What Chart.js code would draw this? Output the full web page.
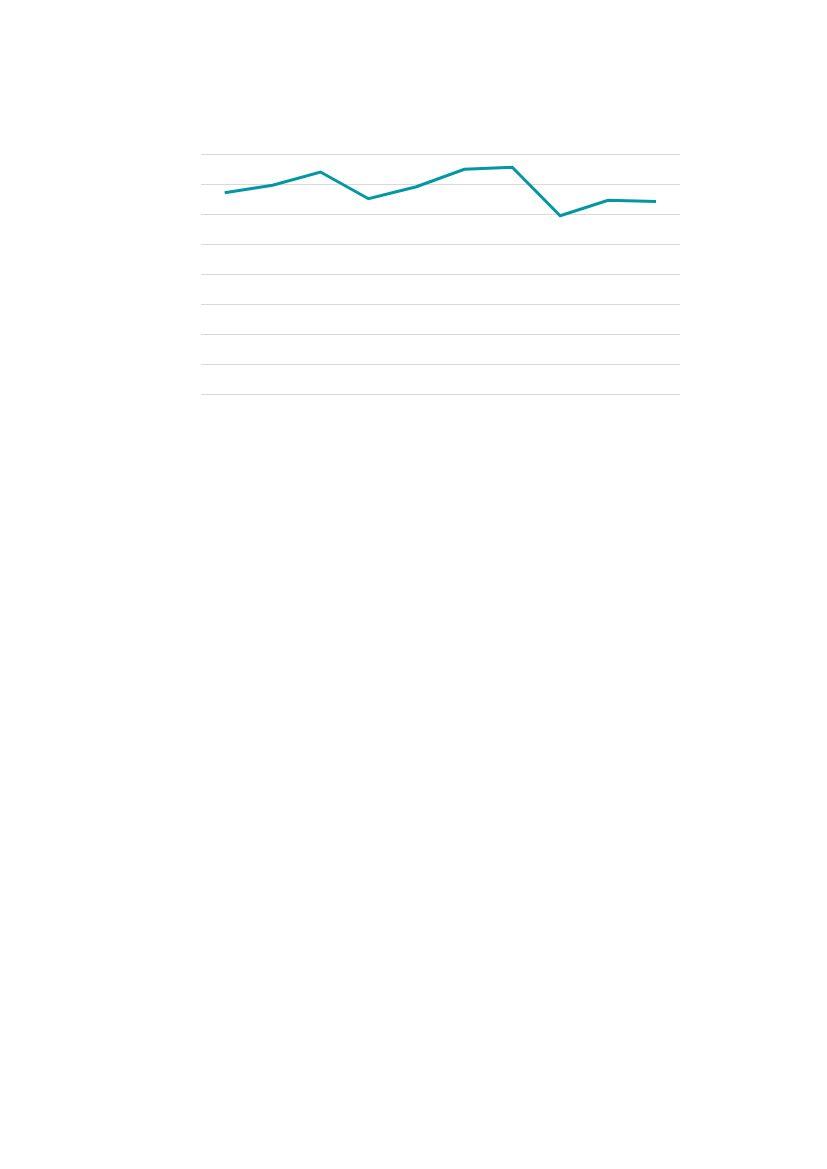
<!DOCTYPE html>
<html>
<head>
<meta charset="utf-8">
<script src="https://cdn.jsdelivr.net/npm/chart.js@4/dist/chart.umd.min.js"></script>
<style>
  html, body { margin: 0; padding: 0; background: #ffffff; }
  #wrap { position: absolute; left: 190px; top: 144px; width: 500px; height: 260px; }
</style>
</head>
<body>
<div id="wrap"><canvas id="c" width="500" height="260"></canvas></div>
<script>
const categories = ["1", "2", "3", "4", "5", "6", "7", "8", "9", "10"];
const seriesValues = [67.2, 69.7, 74.1, 65.2, 69.2, 75.0, 75.7, 59.5, 64.7, 64.3];
const yMin = 0;
const yMax = 80;
const yStep = 10;

new Chart(document.getElementById('c'), {
  type: 'line',
  data: {
    labels: categories,
    datasets: [{
      data: seriesValues,
      borderColor: '#0397a6',
      borderWidth: 3,
      pointRadius: 0,
      tension: 0,
      fill: false
    }]
  },
  options: {
    responsive: false,
    animation: false,
    devicePixelRatio: 1,
    layout: { padding: { left: 10.7, right: 10, top: 10.3, bottom: 9.7 } },
    plugins: { legend: { display: false }, tooltip: { enabled: false } },
    scales: {
      x: {
        offset: true,
        grid: { display: false, drawTicks: false },
        border: { display: false },
        ticks: { display: false }
      },
      y: {
        min: yMin,
        max: yMax,
        ticks: { display: false, stepSize: yStep },
        grid: { color: '#d9d9d9', lineWidth: 1, drawTicks: false },
        border: { display: false }
      }
    }
  }
});
</script>
</body>
</html>
